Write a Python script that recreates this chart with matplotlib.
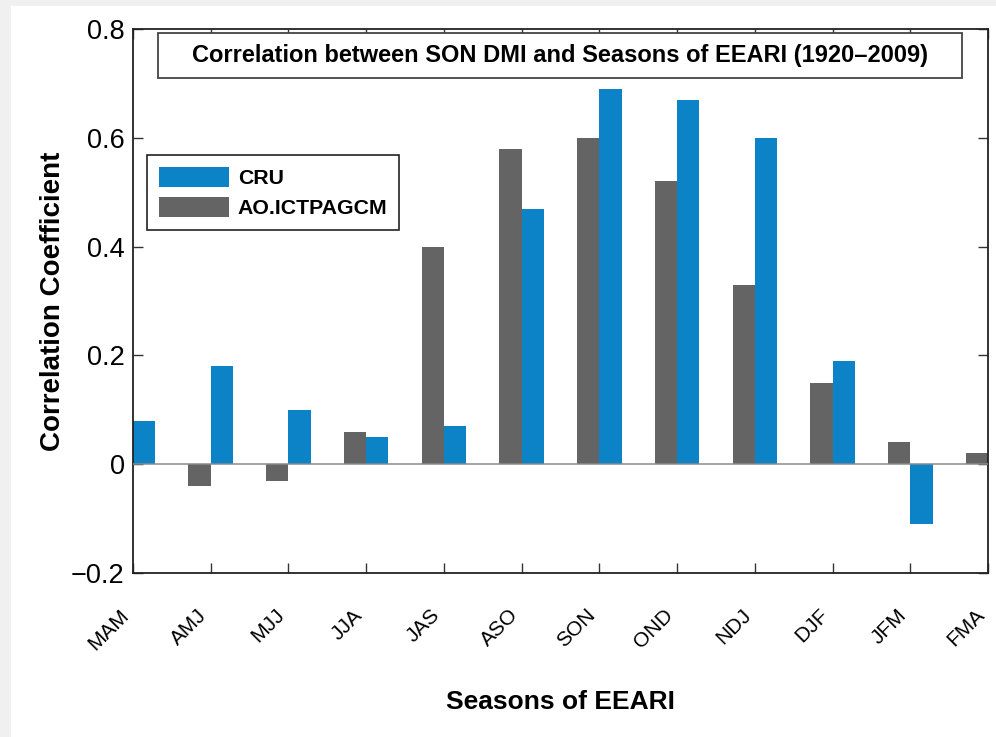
import numpy as np
import matplotlib
matplotlib.use('Agg')
import matplotlib.pyplot as plt
from matplotlib.patches import Rectangle

plt.rcParams['font.family'] = ['Liberation Sans', 'DejaVu Sans']

seasons = ['MAM', 'AMJ', 'MJJ', 'JJA', 'JAS', 'ASO', 'SON', 'OND', 'NDJ', 'DJF', 'JFM', 'FMA']
cru = [0.08, 0.18, 0.10, 0.05, 0.07, 0.47, 0.69, 0.67, 0.60, 0.19, -0.11, 0.04]
ao_ictpagcm = [0.05, -0.04, -0.03, 0.06, 0.40, 0.58, 0.60, 0.52, 0.33, 0.15, 0.04, 0.02]

blue = '#0b83c6'
grey = '#646464'

fig = plt.figure(figsize=(9.96, 7.37), dpi=100, facecolor='#f0f0f0')
fig.patches.append(Rectangle((11 / 996, 0), 1, 1 - 6 / 737, transform=fig.transFigure,
                             facecolor='white', edgecolor='none', zorder=-1))
ax = fig.add_axes([0.1335, 0.2225, 0.8585, 0.7382])

x = np.arange(1, len(seasons) + 1)
w = 0.286
ax.bar(x - w / 2, ao_ictpagcm, w, color=grey, label='AO.ICTPAGCM', zorder=2)
ax.bar(x + w / 2, cru, w, color=blue, label='CRU', zorder=2)
ax.axhline(0, color='#8a8a8a', lw=1.1, zorder=3)

ax.set_xlim(1, 12)
ax.set_ylim(-0.2, 0.8)
ax.set_xticks(x)
ax.set_xticklabels(seasons, rotation=45, ha='right', va='bottom', rotation_mode='anchor', fontsize=15)
ax.set_yticks([-0.2, 0, 0.2, 0.4, 0.6, 0.8])
ax.set_yticklabels(['\u22120.2', '0', '0.2', '0.4', '0.6', '0.8'], fontsize=19.5)
ax.tick_params(direction='in', top=True, right=True, length=7, width=1, color='#333333')
ax.tick_params(axis='x', pad=33)
ax.tick_params(axis='y', pad=6)
for s in ax.spines.values():
    s.set_linewidth(1.3)
    s.set_color('#222222')

ax.set_ylabel('Correlation Coefficient', fontsize=20, fontweight='bold', labelpad=3.5)
ax.set_xlabel('Seasons of EEARI', fontsize=19, fontweight='bold')
ax.xaxis.set_label_coords(0.5, -0.215)

# title box inside the axes
ax.add_patch(Rectangle((0.0292, 0.910), 0.9404, 0.0827, transform=ax.transAxes,
                       facecolor='white', edgecolor='#444444', lw=1.3, zorder=5))
ax.text(0.4994, 0.951, 'Correlation between SON DMI and Seasons of EEARI (1920\u20132009)',
        transform=ax.transAxes, ha='center', va='center', fontsize=17, fontweight='bold', zorder=6)

handles, labels = ax.get_legend_handles_labels()
leg = ax.legend(handles[::-1], labels[::-1], loc='upper left', bbox_to_anchor=(0.0164, 0.768),
                borderaxespad=0, fancybox=False, edgecolor='#222222', framealpha=1,
                prop={'size': 15.3, 'weight': 'bold'}, handlelength=3.3, handleheight=1.08,
                labelspacing=0.4, handletextpad=0.42, borderpad=0.55)
leg.get_frame().set_linewidth(1.2)

fig.savefig('out.png', dpi=100, facecolor=fig.get_facecolor())
